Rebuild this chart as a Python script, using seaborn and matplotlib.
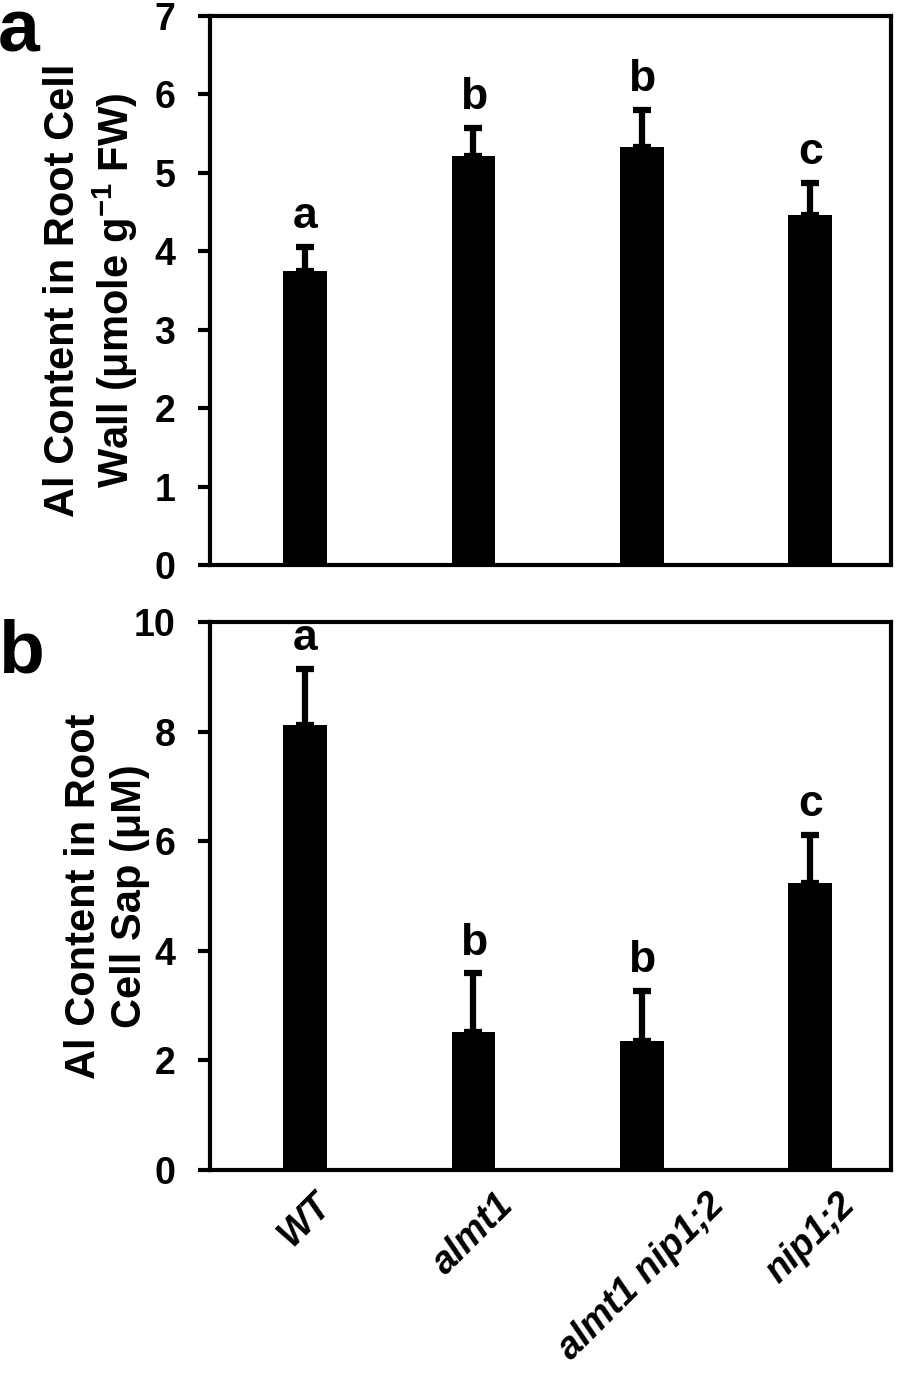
import matplotlib
matplotlib.use("Agg")
import matplotlib.pyplot as plt
import seaborn as sns
import pandas as pd
import numpy as np

genotypes = ["WT", "almt1", "almt1 nip1;2", "nip1;2"]
wall_mean = [3.75, 5.21, 5.33, 4.46]
wall_err = [0.31, 0.36, 0.47, 0.41]
wall_letters = ["a", "b", "b", "c"]
sap_mean = [8.12, 2.51, 2.35, 5.24]
sap_err = [1.02, 1.08, 0.92, 0.87]
sap_letters = ["a", "b", "b", "c"]

sns.set_theme(style="white")
plt.rcParams['font.family'] = ['Liberation Sans', 'DejaVu Sans']
plt.rcParams['font.weight'] = 'bold'
for k in ['text.color', 'axes.labelcolor', 'xtick.color', 'ytick.color', 'axes.edgecolor']:
    plt.rcParams[k] = 'black'
plt.rcParams['mathtext.fontset'] = 'custom'
plt.rcParams['mathtext.rm'] = 'Liberation Sans:bold'
plt.rcParams['mathtext.it'] = 'Liberation Sans:bold:italic'
plt.rcParams['mathtext.bf'] = 'Liberation Sans:bold'
plt.rcParams['mathtext.default'] = 'rm'

fig = plt.figure(figsize=(8.97, 13.8), dpi=100)
W, H = 897, 1380
L, R = 210, 891
ax1 = fig.add_axes([L / W, 1 - 565 / H, (R - L) / W, (565 - 16) / H])
ax2 = fig.add_axes([L / W, 1 - 1170 / H, (R - L) / W, (1170 - 622) / H])

def panel(ax, means, errs, letters, ymax, yticks, ylabel, label_x):
    df = pd.DataFrame({"g": genotypes, "v": means})
    sns.barplot(data=df, x="g", y="v", ax=ax, color="black", width=0.26,
                saturation=1, edgecolor="black", linewidth=0)
    x = np.arange(len(genotypes))
    ax.errorbar(x, means, yerr=[np.zeros(len(means)), errs], fmt="none",
                ecolor="black", elinewidth=4.5, capsize=6.5, capthick=4.5)
    for xi, m, e, l in zip(x, means, errs, letters):
        ax.annotate(l, xy=(xi, m + e), xytext=(0, 7), textcoords="offset points",
                    ha="center", va="bottom", fontsize=32, fontweight="bold",
                    color="black")
    ax.set_xlim(-0.565, 3.48)
    ax.set_ylim(0, ymax)
    ax.set_yticks(yticks)
    ax.set_yticklabels([str(t) for t in yticks], fontsize=27, fontweight="bold")
    ax.set_ylabel(ylabel, fontsize=30, fontweight="bold", linespacing=1.2)
    ax.yaxis.set_label_coords(label_x, 0.5)
    ax.set_xlabel("")
    for s in ax.spines.values():
        s.set_visible(True)
        s.set_color("black")
        s.set_linewidth(3)
    ax.tick_params(axis="y", direction="out", length=9, width=3, pad=16,
                   colors="black", left=True)
    ax.tick_params(axis="x", bottom=False, length=0)

panel(ax1, wall_mean, wall_err, wall_letters, 7, list(range(0, 8)),
      "Al Content in Root Cell\nWall (\u03bcmole g$^{-1}$ FW)", (140 - L) / (R - L))
ax1.set_xticklabels([])

panel(ax2, sap_mean, sap_err, sap_letters, 10, [0, 2, 4, 6, 8, 10],
      "Al Content in Root\nCell Sap (\u03bcM)", (150 - L) / (R - L))
ax2.set_xticks(range(len(genotypes)))
ax2.set_xticklabels(genotypes, rotation=45, ha="center", va="top",
                    fontsize=27, fontweight="bold", fontstyle="italic")
ax2.tick_params(axis="x", pad=12)

fig.text(-2 / W, 1 - 52 / H, "a", fontsize=54, fontweight="bold", va="baseline", ha="left")
fig.text(-2 / W, 1 - 672 / H, "b", fontsize=54, fontweight="bold", va="baseline", ha="left")

fig.savefig("out.png", dpi=100, facecolor="white")
